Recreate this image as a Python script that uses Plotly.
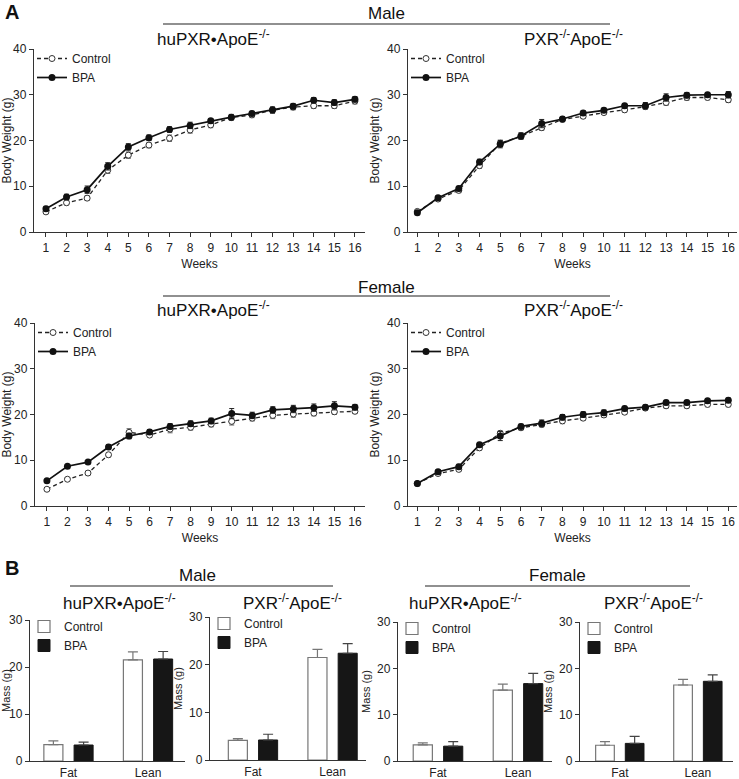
import plotly.graph_objects as go

W, H = 739, 779
FONT = "Arial, Liberation Sans, sans-serif"

weeks = list(range(1, 17))
week_labels = [str(w) for w in weeks]

# Male huPXR•ApoE-/-
m_hu_ctrl = [4.4, 6.4, 7.4, 13.5, 16.8, 19.0, 20.5, 22.3, 23.4, 25.0, 25.6, 26.6, 27.3, 27.6, 27.6, 28.6]
m_hu_ctrl_err = [0.4, 0.5, 0.5, 0.7, 0.7, 0.6, 0.7, 0.7, 0.6, 0.5, 0.6, 0.7, 0.6, 0.6, 0.6, 0.6]
m_hu_bpa = [5.1, 7.65, 9.25, 14.35, 18.6, 20.6, 22.4, 23.3, 24.3, 25.1, 25.9, 26.7, 27.5, 28.8, 28.3, 29.0]
m_hu_bpa_err = [0.5, 0.6, 0.8, 0.8, 0.7, 0.6, 0.6, 0.7, 0.5, 0.6, 0.5, 0.6, 0.6, 0.6, 0.6, 0.6]

# Male PXR-/-ApoE-/-
m_ko_ctrl = [4.5, 7.2, 9.1, 14.5, 19.4, 20.9, 22.8, 24.6, 25.3, 26.1, 26.7, 27.4, 28.3, 29.4, 29.4, 28.9]
m_ko_ctrl_err = [0.3, 0.4, 0.5, 0.6, 0.7, 0.6, 0.6, 0.5, 0.5, 0.4, 0.5, 0.5, 0.6, 0.6, 0.5, 0.6]
m_ko_bpa = [4.2, 7.5, 9.5, 15.3, 19.2, 21.0, 23.7, 24.7, 26.0, 26.6, 27.6, 27.6, 29.4, 29.9, 30.0, 30.0]
m_ko_bpa_err = [0.3, 0.4, 0.5, 0.6, 0.8, 0.7, 0.9, 0.5, 0.5, 0.5, 0.5, 0.7, 0.8, 0.6, 0.5, 0.7]

# Female huPXR•ApoE-/-
f_hu_ctrl = [3.66, 5.85, 7.2, 11.2, 16.1, 15.5, 16.8, 17.2, 17.9, 18.5, 19.2, 19.8, 20.1, 20.3, 20.6, 20.7]
f_hu_ctrl_err = [0.3, 0.4, 0.4, 0.5, 0.8, 0.5, 0.8, 0.6, 0.6, 0.8, 0.6, 0.7, 0.7, 0.6, 0.6, 0.5]
f_hu_bpa = [5.5, 8.7, 9.6, 12.9, 15.3, 16.2, 17.4, 18.0, 18.6, 20.2, 19.8, 21.0, 21.2, 21.5, 21.9, 21.6]
f_hu_bpa_err = [0.3, 0.3, 0.3, 0.5, 0.6, 0.5, 0.6, 0.6, 0.6, 1.1, 0.7, 0.7, 0.8, 0.8, 0.9, 0.6]

# Female PXR-/-ApoE-/-
f_ko_ctrl = [4.9, 7.1, 8.0, 12.7, 15.9, 17.1, 17.8, 18.6, 19.2, 19.9, 20.5, 21.4, 21.9, 21.9, 22.2, 22.2]
f_ko_ctrl_err = [0.3, 0.4, 0.4, 0.5, 0.5, 0.5, 0.5, 0.6, 0.5, 0.5, 0.5, 0.5, 0.5, 0.5, 0.5, 0.5]
f_ko_bpa = [4.9, 7.5, 8.6, 13.4, 15.3, 17.4, 18.1, 19.4, 20.0, 20.4, 21.3, 21.6, 22.6, 22.6, 23.0, 23.1]
f_ko_bpa_err = [0.3, 0.4, 0.5, 0.5, 1.0, 0.5, 0.7, 0.6, 0.6, 0.6, 0.5, 0.5, 0.5, 0.5, 0.5, 0.5]

# Body composition (bars)
tissues = ["Fat", "Lean"]
b_m_hu_ctrl = [3.5, 21.5]
b_m_hu_ctrl_err = [0.8, 1.7]
b_m_hu_bpa = [3.4, 21.7]
b_m_hu_bpa_err = [0.6, 1.6]
b_m_ko_ctrl = [4.1, 21.5]
b_m_ko_ctrl_err = [0.4, 1.7]
b_m_ko_bpa = [4.2, 22.4]
b_m_ko_bpa_err = [1.2, 2.0]
b_f_hu_ctrl = [3.5, 15.3]
b_f_hu_ctrl_err = [0.4, 1.3]
b_f_hu_bpa = [3.2, 16.7]
b_f_hu_bpa_err = [1.0, 2.2]
b_f_ko_ctrl = [3.4, 16.4]
b_f_ko_ctrl_err = [0.8, 1.2]
b_f_ko_bpa = [3.8, 17.2]
b_f_ko_bpa_err = [1.5, 1.4]

HU = "huPXR•ApoE<sup>-/-</sup>"
KO = "PXR<sup>-/-</sup>ApoE<sup>-/-</sup>"


def px_x(p):
    return p / W


def px_y(p):
    return 1 - p / H


fig = go.Figure()
layout = dict(
    width=W, height=H, margin=dict(l=0, r=0, t=0, b=0, autoexpand=False),
    paper_bgcolor="white", plot_bgcolor="white",
    font=dict(family=FONT, size=12, color="#1a1a1a"),
    bargap=0.24, bargroupgap=0.37, barmode="group",
)

line_panels = [
    (1, (34, 365), (49, 232), (0.42, 16.49), m_hu_ctrl, m_hu_ctrl_err, m_hu_bpa, m_hu_bpa_err),
    (2, (408, 737), (49, 232), (0.55, 16.42), m_ko_ctrl, m_ko_ctrl_err, m_ko_bpa, m_ko_bpa_err),
    (3, (35, 365), (323, 506), (0.42, 16.49), f_hu_ctrl, f_hu_ctrl_err, f_hu_bpa, f_hu_bpa_err),
    (4, (408, 737), (323, 506), (0.55, 16.42), f_ko_ctrl, f_ko_ctrl_err, f_ko_bpa, f_ko_bpa_err),
]

axis_common = dict(
    showgrid=False, zeroline=False, showline=True, linecolor="#333", linewidth=1.3,
    ticks="outside", ticklen=4, tickwidth=1.2, tickcolor="#333", automargin=False,
    tickfont=dict(family=FONT, size=12, color="#222"),
)

for idx, xp, yp, xr, c, ce, b, be in line_panels:
    sfx = "" if idx == 1 else str(idx)
    xa, ya = "x" + sfx, "y" + sfx
    lg = "legend" + sfx
    fig.add_trace(go.Scatter(
        x=weeks, y=c, name="Control", mode="lines+markers", xaxis=xa, yaxis=ya, legend=lg,
        line=dict(color="#222", width=1.3, dash="4px,3px"),
        marker=dict(symbol="circle", size=6, color="white", line=dict(color="#333", width=1)),
        error_y=dict(type="data", array=ce, color="#666", thickness=1, width=2.5),
    ))
    fig.add_trace(go.Scatter(
        x=weeks, y=b, name="BPA", mode="lines+markers", xaxis=xa, yaxis=ya, legend=lg,
        line=dict(color="#111", width=1.7),
        marker=dict(symbol="circle", size=7, color="#111"),
        error_y=dict(type="data", array=be, color="#222", thickness=1, width=2.5),
    ))
    layout["xaxis" + sfx] = dict(
        axis_common, domain=[px_x(xp[0]), px_x(xp[1])], range=list(xr), anchor=ya,
        tickvals=weeks, ticktext=week_labels,
        title=dict(text="Weeks", font=dict(family=FONT, size=12, color="#222"), standoff=6),
    )
    layout["yaxis" + sfx] = dict(
        axis_common, domain=[px_y(yp[1]), px_y(yp[0])], range=[0, 40], anchor=xa,
        tickvals=[0, 10, 20, 30, 40],
        title=dict(text="Body Weight (g)", font=dict(family=FONT, size=12, color="#222"), standoff=4),
    )
    layout[lg] = dict(
        x=px_x(xp[0] - 2), y=px_y(yp[0] - 5), xanchor="left", yanchor="top",
        bgcolor="rgba(0,0,0,0)", font=dict(family=FONT, size=12, color="#222"),
        tracegroupgap=0, itemwidth=30,
    )

bar_panels = [
    (5, (30, 185), (620, 761), (-0.484, 1.465), b_m_hu_ctrl, b_m_hu_ctrl_err, b_m_hu_bpa, b_m_hu_bpa_err),
    (6, (210, 366), (617, 760), (-0.54, 1.42), b_m_ko_ctrl, b_m_ko_ctrl_err, b_m_ko_bpa, b_m_ko_bpa_err),
    (7, (398, 552), (622, 761), (-0.5, 1.425), b_f_hu_ctrl, b_f_hu_ctrl_err, b_f_hu_bpa, b_f_hu_bpa_err),
    (8, (580, 733), (622, 761), (-0.51, 1.45), b_f_ko_ctrl, b_f_ko_ctrl_err, b_f_ko_bpa, b_f_ko_bpa_err),
]

for idx, xp, yp, xr, c, ce, b, be in bar_panels:
    sfx = str(idx)
    xa, ya = "x" + sfx, "y" + sfx
    lg = "legend" + sfx
    fig.add_trace(go.Bar(
        x=tissues, y=c, name="Control", xaxis=xa, yaxis=ya, legend=lg,
        marker=dict(color="white", line=dict(color="#777", width=1.2)),
        error_y=dict(type="data", symmetric=False, array=ce, arrayminus=[0] * len(ce),
                     color="#777", thickness=1.2, width=5),
    ))
    fig.add_trace(go.Bar(
        x=tissues, y=b, name="BPA", xaxis=xa, yaxis=ya, legend=lg,
        marker=dict(color="#161616", line=dict(color="#161616", width=1)),
        error_y=dict(type="data", symmetric=False, array=be, arrayminus=[0] * len(be),
                     color="#444", thickness=1.2, width=5),
    ))
    layout["xaxis" + sfx] = dict(
        axis_common, domain=[px_x(xp[0]), px_x(xp[1])], range=list(xr), anchor=ya,
        type="category", ticks="", tickfont=dict(family=FONT, size=12, color="#222"),
    )
    layout["yaxis" + sfx] = dict(
        axis_common, domain=[px_y(yp[1]), px_y(yp[0])], range=[0, 30], anchor=xa,
        tickvals=[0, 10, 20, 30],
        title=dict(text="Mass (g)", font=dict(family=FONT, size=11, color="#222"), standoff=4),
    )
    layout[lg] = dict(
        x=px_x(xp[0] - 6), y=px_y(yp[0] - 8), xanchor="left", yanchor="top",
        bgcolor="rgba(0,0,0,0)", font=dict(family=FONT, size=12, color="#222"),
        tracegroupgap=0, itemwidth=30,
    )

fig.update_layout(**layout)

ann = []


def text(x, y, s, size=16, bold=False):
    ann.append(dict(
        x=px_x(x), y=px_y(y), xref="paper", yref="paper", text=("<b>%s</b>" % s) if bold else s,
        showarrow=False, xanchor="center", yanchor="middle",
        font=dict(family=FONT, size=size, color="#111"),
    ))


text(12, 12, "A", 20, True)
text(12, 568, "B", 20, True)
text(386, 13, "Male", 17)
text(386, 287, "Female", 17)
text(213, 38, HU, 17)
text(573, 38, KO, 17)
text(213, 309, HU, 17)
text(573, 309, KO, 17)
text(197, 575, "Male", 17)
text(557, 575, "Female", 17)
text(119, 602, HU, 17)
text(292, 602, KO, 17)
text(465, 602, HU, 17)
text(653, 602, KO, 17)

shapes = []
for x0, x1, y in [(163, 610, 24), (163, 610, 296), (70, 333, 586), (425, 690, 586)]:
    shapes.append(dict(type="line", xref="paper", yref="paper",
                       x0=px_x(x0), x1=px_x(x1), y0=px_y(y), y1=px_y(y),
                       line=dict(color="#222", width=1.2)))

fig.update_layout(annotations=ann, shapes=shapes)
fig.write_html("out.html", config={"displayModeBar": False},
               post_script="document.body.style.margin='0px';document.body.style.overflow='hidden';")
